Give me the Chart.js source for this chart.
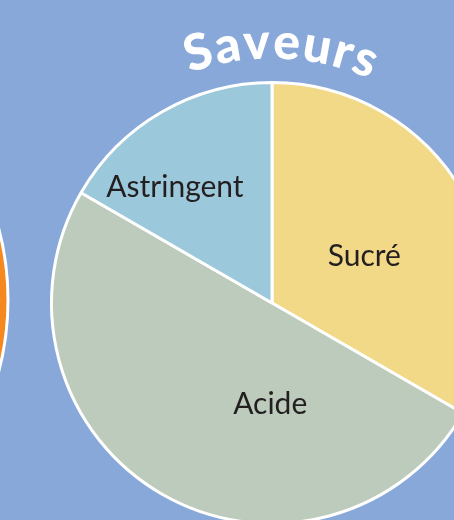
<!DOCTYPE html>
<html>
<head>
<meta charset="utf-8">
<script src="https://cdn.jsdelivr.net/npm/chart.js@4"></script>
<style>
  html, body { margin: 0; padding: 0; width: 454px; height: 520px; overflow: hidden; background: #88a8da; }
  #wrap { position: absolute; left: 0; top: 0; width: 600px; height: 620px; }
</style>
</head>
<body>
<div id="wrap"><canvas id="pie" width="600" height="620"></canvas></div>
<script>
//------------------------------------------------------
// DATA
//------------------------------------------------------
const title = 'Saveurs';
const categories = ['Sucré', 'Acide', 'Astringent'];
const values = [2, 3, 1];
const colors = ['#f2d988', '#bccbbb', '#9bc8da'];

//------------------------------------------------------
// PLUGINS
//------------------------------------------------------

// piece of the neighbouring (orange) chart at the left edge
const sidePie = {
  id: 'sidePie',
  beforeDatasetsDraw(chart) {
    const c = chart.ctx;
    c.save();
    c.beginPath();
    c.arc(-272, 300, 280, 0, Math.PI * 2);
    c.fillStyle = '#f5891f';
    c.fill();
    c.lineWidth = 3;
    c.strokeStyle = '#ffffff';
    c.stroke();
    c.restore();
  }
};

// labels inside the slices
const sliceLabels = {
  id: 'sliceLabels',
  afterDatasetsDraw(chart, args, opts) {
    const meta = chart.getDatasetMeta(0);
    const c = chart.ctx;
    c.save();
    c.font = opts.font;
    c.fillStyle = opts.color;
    c.textAlign = 'center';
    c.textBaseline = 'middle';
    meta.data.forEach((arc, i) => {
      const p = opts.place[i];
      const a = p[0] * Math.PI / 180;
      const r = arc.outerRadius * p[1];
      c.fillText(chart.data.labels[i], arc.x + r * Math.sin(a), arc.y - r * Math.cos(a));
    });
    c.restore();
  }
};

// title bent along the top of the pie
const arcTitle = {
  id: 'arcTitle',
  afterDraw(chart, args, opts) {
    const arc = chart.getDatasetMeta(0).data[0];
    const R = arc.outerRadius + opts.gap;
    const c = chart.ctx;
    c.save();
    c.font = opts.font;
    c.fillStyle = opts.color;
    c.textAlign = 'center';
    c.textBaseline = 'alphabetic';
    const chars = [...opts.text];
    const widths = chars.map(ch => c.measureText(ch).width + opts.spacing);
    const total = widths.reduce((s, w) => s + w, 0) - opts.spacing;
    let a = opts.angle * Math.PI / 180 - total / R / 2 - opts.spacing / R / 2;
    chars.forEach((ch, i) => {
      const half = widths[i] / 2 / R;
      a += half;
      c.save();
      c.translate(arc.x + R * Math.sin(a), arc.y - R * Math.cos(a));
      c.rotate(a);
      c.fillText(ch, 0, 0);
      c.restore();
      a += half;
    });
    c.restore();
  }
};

//------------------------------------------------------
// CHART
//------------------------------------------------------
const ctx = document.getElementById('pie').getContext('2d');

const pieChart = new Chart(ctx, {
  type: 'pie',
  data: {
    labels: categories,
    datasets: [{
      data: values,
      backgroundColor: colors,
      borderColor: '#ffffff',
      borderWidth: 3
    }]
  },
  options: {
    responsive: false,
    animation: false,
    events: [],
    layout: {
      padding: { left: 50, top: 81, right: 106, bottom: 95 }
    },
    plugins: {
      legend: { display: false },
      tooltip: { enabled: false },
      sliceLabels: {
        font: '30px Lato',
        color: '#231f20',
        place: [[63, 0.47], [181, 0.46], [320, 0.685]]
      },
      arcTitle: {
        text: title,
        font: '900 50px Lato',
        color: '#ffffff',
        gap: 24,
        spacing: 1.5,
        angle: 2
      }
    }
  },
  plugins: [sidePie, sliceLabels, arcTitle]
});
</script>
</body>
</html>
